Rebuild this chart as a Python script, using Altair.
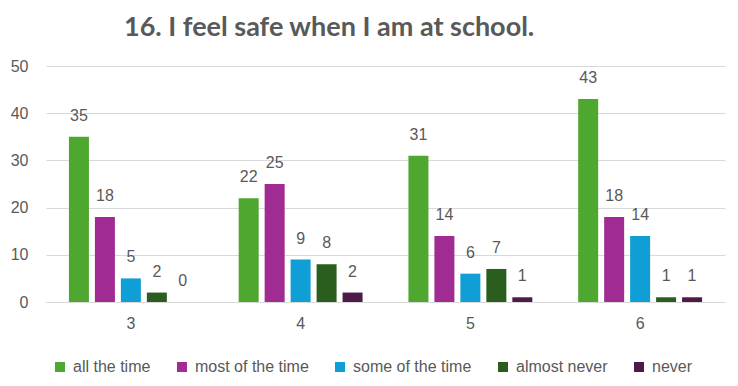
import altair as alt
import pandas as pd

grades = ["3", "4", "5", "6"]
responses = ["all the time", "most of the time", "some of the time", "almost never", "never"]
all_the_time = [35, 22, 31, 43]
most_of_the_time = [18, 25, 14, 18]
some_of_the_time = [5, 9, 6, 14]
almost_never = [2, 8, 7, 1]
never = [0, 2, 1, 1]
colors = ["#4EA72E", "#A02B93", "#0F9ED5", "#2B5E1E", "#4E1A4A"]
y_ticks = [0, 10, 20, 30, 40, 50]

series = [all_the_time, most_of_the_time, some_of_the_time, almost_never, never]
rows = []
for resp, vals in zip(responses, series):
    for g, v in zip(grades, vals):
        rows.append({"grade": g, "response": resp, "value": v})
df = pd.DataFrame(rows)

x_enc = alt.X(
    "grade:N",
    sort=grades,
    title=None,
    scale=alt.Scale(paddingInner=0.235, paddingOuter=0.1175),
    axis=alt.Axis(
        labelAngle=0, labelFontSize=16, labelColor="#595959", labelFont="Liberation Sans",
        ticks=False, domainColor="#D9D9D9", domainWidth=1, labelPadding=13, grid=False,
    ),
)
xoff = alt.XOffset(
    "response:N", sort=responses,
    scale=alt.Scale(paddingInner=0.23, paddingOuter=0.115),
)
y_enc = alt.Y(
    "value:Q",
    title=None,
    scale=alt.Scale(domain=[0, 50]),
    axis=alt.Axis(
        values=y_ticks, labelFontSize=16, labelColor="#595959", labelFont="Liberation Sans",
        ticks=False, domain=False, gridColor="#D9D9D9", gridWidth=1, labelPadding=18,
    ),
)

bars = alt.Chart(df).mark_bar().encode(
    x=x_enc,
    xOffset=xoff,
    y=y_enc,
    color=alt.Color(
        "response:N",
        sort=responses,
        scale=alt.Scale(domain=responses, range=colors),
        legend=alt.Legend(
            title=None, orient="none", direction="horizontal",
            legendX=6, legendY=293,
            symbolType="square", symbolSize=100, symbolStrokeWidth=0,
            labelFontSize=16, labelColor="#595959", labelFont="Liberation Sans",
            columnPadding=23, labelOffset=5,
        ),
    ),
)

labels = alt.Chart(df).mark_text(
    baseline="alphabetic", dy=-16, fontSize=16, color="#595959", font="Liberation Sans"
).encode(
    x=alt.X("grade:N", sort=grades),
    xOffset=xoff,
    y=alt.Y("value:Q"),
    text=alt.Text("value:Q"),
)

chart = (
    alt.layer(bars, labels)
    .properties(
        width=679,
        height=236,
        autosize=alt.AutoSizeParams(type="none"),
        padding={"left": 38, "top": 58, "right": 5, "bottom": 80},
        title=alt.TitleParams(
            "16. I feel safe when I am at school.",
            anchor="start", frame="group", dx=78, offset=16, fontSize=27, font="Lato",
            fontWeight="bold", color="#595959",
        ),
    )
    .configure_view(stroke=None)
)

chart.save("out.html", embed_options={"renderer": "svg", "actions": False})
